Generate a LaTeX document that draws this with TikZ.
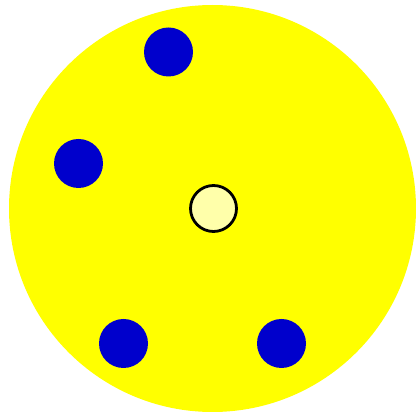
\documentclass[tikz,border=0pt]{standalone}
\usepackage{tikz}
\usetikzlibrary{positioning}
\definecolor{discyellow}{RGB}{255,255,0}
\definecolor{dotblue}{RGB}{0,0,204}
\definecolor{paleyellow}{RGB}{255,255,170}
\begin{document}
\begin{tikzpicture}[
  x=1pt, y=-1pt,
  disc/.style={circle,fill=discyellow,inner sep=0pt,minimum size=407pt},
  dot/.style={circle,fill=dotblue,inner sep=0pt,minimum size=49pt},
  hub/.style={circle,draw=black,line width=2.8pt,fill=paleyellow,
              inner sep=0pt,minimum size=46pt}
]
  \useasboundingbox (0,0) rectangle (416,414);
  % yellow disc
  \node[disc] (plate) at (212.5,208.5) {};
  % blue dots
  \node[dot] (d1) at (168.5,52)    {};
  \node[dot] (d2) at (78.5,163.5)  {};
  \node[dot] (d3) at (123.5,343.5) {};
  \node[dot] (d4) at (281.5,343.5) {};
  % centre
  \node[hub] (c) at (213.5,208.5) {};
\end{tikzpicture}
\end{document}
